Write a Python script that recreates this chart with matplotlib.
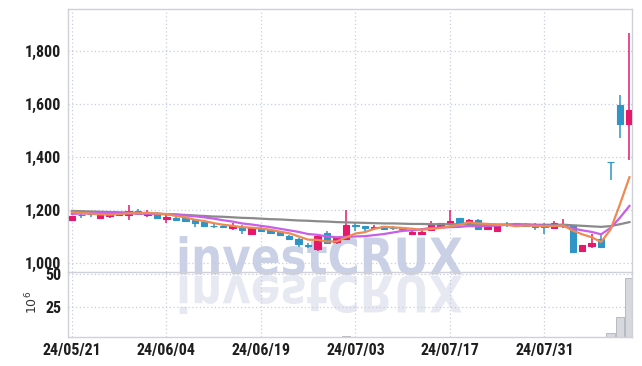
import numpy as np
import matplotlib
matplotlib.use('Agg')
import matplotlib.pyplot as plt
from matplotlib.textpath import TextPath
from matplotlib.patches import PathPatch
from matplotlib.font_manager import FontProperties
from matplotlib.transforms import Affine2D, IdentityTransform

# daily candles, 24/05/21 .. 24/08/13 (trading days)
opens = [1164, 1183, 1190, 1170, 1178, 1183, 1180, 1198, 1183, 1185,
         1167, 1172, 1170, 1163, 1154, 1141, 1141, 1132, 1138, 1110,
         1132, 1125, 1119, 1104, 1091, 1068, 1053, 1114, 1079, 1091,
         1143, 1140, 1132, 1140, 1136, 1131, 1111, 1111, 1126, 1141,
         1150, 1169, 1150, 1163, 1129, 1123, 1149, 1150, 1143, 1147,
         1142, 1134, 1145, 1140, 1046, 1066, 1090, 1382, 1596, 1524]
highs = [1178, 1190, 1197, 1192, 1190, 1192, 1219, 1205, 1200, 1192,
         1189, 1178, 1176, 1168, 1156, 1146, 1144, 1150, 1145, 1134,
         1140, 1128, 1121, 1106, 1094, 1075, 1109, 1120, 1100, 1200,
         1157, 1142, 1144, 1142, 1140, 1135, 1121, 1133, 1158, 1153,
         1200, 1170, 1166, 1165, 1145, 1146, 1155, 1152, 1150, 1150,
         1150, 1160, 1166, 1144, 1070, 1110, 1113, 1382, 1633, 1865]
lows = [1162, 1172, 1176, 1166, 1172, 1178, 1163, 1182, 1176, 1166,
        1153, 1158, 1154, 1135, 1137, 1134, 1132, 1125, 1112, 1108,
        1116, 1110, 1102, 1088, 1060, 1058, 1046, 1072, 1072, 1088,
        1121, 1115, 1124, 1125, 1124, 1128, 1108, 1108, 1122, 1137,
        1147, 1148, 1145, 1126, 1125, 1122, 1138, 1138, 1136, 1127,
        1109, 1131, 1132, 1040, 1044, 1056, 1060, 1313, 1470, 1389]
closes = [1177, 1180, 1187, 1186, 1184, 1186, 1198, 1186, 1194, 1169,
          1176, 1164, 1160, 1153, 1140, 1139, 1135, 1140, 1125, 1132,
          1122, 1113, 1105, 1091, 1073, 1065, 1104, 1076, 1094, 1144,
          1140, 1132, 1138, 1130, 1133, 1130, 1119, 1118, 1147, 1150,
          1159, 1150, 1163, 1130, 1138, 1144, 1146, 1140, 1141, 1135,
          1136, 1150, 1148, 1044, 1069, 1078, 1062, 1381, 1524, 1577]
# volume, millions of shares
volumes = [0.8, 0.6, 0.7, 0.6, 0.5, 0.5, 1.1, 0.7, 0.6, 0.7,
           0.6, 0.5, 0.5, 0.7, 0.6, 0.5, 0.5, 0.6, 0.7, 0.6,
           0.5, 0.5, 0.6, 0.7, 0.9, 0.6, 1.2, 1.0, 0.7, 2.5,
           0.8, 0.6, 0.5, 0.5, 0.5, 0.4, 0.6, 0.7, 0.8, 0.6,
           1.1, 0.7, 0.6, 0.8, 0.6, 0.7, 0.5, 0.5, 0.5, 0.6,
           0.7, 0.6, 0.7, 1.4, 0.9, 0.8, 0.9, 4.8, 16.8, 47.0]
# moving averages as drawn
ma5 = [1192, 1189, 1187, 1184, 1183, 1185, 1188, 1188, 1190, 1187,
       1185, 1178, 1173, 1164, 1159, 1151, 1145, 1141, 1136, 1134,
       1131, 1126, 1119, 1113, 1101, 1089, 1088, 1082, 1082, 1097,
       1112, 1117, 1130, 1137, 1135, 1133, 1130, 1126, 1129, 1133,
       1139, 1145, 1154, 1150, 1148, 1145, 1144, 1140, 1142, 1141,
       1140, 1140, 1142, 1123, 1109, 1098, 1080, 1127, 1223, 1324]
ma10 = [1186, 1187, 1188, 1189, 1189, 1189, 1188, 1187, 1186, 1185,
        1185, 1183, 1180, 1177, 1173, 1168, 1162, 1157, 1150, 1146,
        1141, 1136, 1130, 1124, 1118, 1110, 1107, 1101, 1098, 1099,
        1101, 1102, 1106, 1110, 1116, 1122, 1124, 1128, 1133, 1134,
        1136, 1137, 1140, 1140, 1140, 1142, 1145, 1147, 1146, 1144,
        1141, 1141, 1140, 1131, 1124, 1118, 1109, 1133, 1172, 1216]
ma60 = [1197, 1196, 1195, 1194, 1193, 1192, 1191, 1190, 1188, 1187,
        1185, 1184, 1182, 1180, 1178, 1176, 1175, 1173, 1171, 1170,
        1168, 1166, 1165, 1163, 1161, 1160, 1158, 1157, 1155, 1154,
        1153, 1152, 1151, 1150, 1150, 1149, 1148, 1148, 1147, 1147,
        1147, 1147, 1146, 1146, 1146, 1146, 1146, 1146, 1146, 1145,
        1145, 1145, 1145, 1143, 1141, 1139, 1137, 1140, 1147, 1155]

tick_pos = [0, 10, 20, 30, 40, 50]
tick_labels = ['24/05/21', '24/06/04', '24/06/19', '24/07/03', '24/07/17', '24/07/31']
price_ticks = [1000, 1200, 1400, 1600, 1800]
vol_ticks = [25, 50]

UP = '#e5186c'
DOWN = '#2f94c6'
GRID = '#c9cde0'
EDGE = '#cfd0d8'
label_font = FontProperties(family=['Liberation Sans Narrow', 'Roboto Condensed', 'Roboto'],
                            weight='bold', size=11.5)

o = np.array(opens, float)
h = np.array(highs, float)
l = np.array(lows, float)
c = np.array(closes, float)
x = np.arange(len(c))
colors = [UP if cc >= oo else DOWN for oo, cc in zip(o, c)]

fig = plt.figure(figsize=(6.42, 3.66), dpi=100, facecolor='white')
ax = fig.add_axes([68.3 / 642, 1 - 272.3 / 366, (632.3 - 68.3) / 642, (272.3 - 9.3) / 366])
axv = fig.add_axes([68.3 / 642, 1 - 337 / 366, (632.3 - 68.3) / 642, (337 - 272.3) / 366],
                   sharex=ax)
for a in (ax, axv):
    a.set_facecolor('none')
    for s in a.spines.values():
        s.set_color(EDGE)
        s.set_linewidth(1)
    a.grid(True, color=GRID, linestyle=(0, (1, 2)), linewidth=0.9)
    a.set_axisbelow(True)
    a.tick_params(length=0, colors='#1e1e1e')

# watermark with its reflection
tp = TextPath((0, 0), 'investCRUX', size=100,
              prop=FontProperties(family='DejaVu Sans', weight='bold'))
vx = tp.vertices
x0, x1 = vx[:, 0].min(), vx[:, 0].max()
y0, y1 = vx[:, 1].min(), vx[:, 1].max()
sx = (462 - 176) / (x1 - x0)
sy = (275 - 236) / (y1 - y0)
base = 366 - 275
wm = Affine2D().translate(-x0, -y0).scale(sx, sy).translate(176, base)
fig.add_artist(PathPatch(wm.transform_path(tp), facecolor='#cad1e6', edgecolor='none',
                         transform=IdentityTransform(), zorder=-1))
wm_r = Affine2D().translate(-x0, -y0).scale(sx, -sy).translate(176, base)
fig.add_artist(PathPatch(wm_r.transform_path(tp), facecolor='#e6e9f2', edgecolor='none',
                         transform=IdentityTransform(), zorder=-1))

# candles
ax.vlines(x, l, h, colors=colors, linewidth=1.1, zorder=2)
body_lo = np.minimum(o, c)
body_h = np.maximum(np.abs(c - o), 1.0)
ax.bar(x, body_h, bottom=body_lo, width=0.68, color=colors, edgecolor=colors,
       linewidth=0.8, zorder=3)

ax.plot(x, ma60, color='#8a8a8a', linewidth=1.6, zorder=4)
ax.plot(x, ma10, color='#c85fe6', linewidth=1.6, zorder=4)
ax.plot(x, ma5, color='#ee8a52', linewidth=1.6, zorder=4)

ax.set_ylim(966, 1956)
ax.set_yticks(price_ticks)
ax.set_yticklabels(['{:,}'.format(v) for v in price_ticks], fontproperties=label_font)
ax.set_xlim(-0.38, 59.3)
ax.set_xticks(tick_pos)
ax.tick_params(axis='x', labelbottom=False)
ax.tick_params(axis='y', pad=5)

axv.bar(x, volumes, width=0.9, color='#d7d7de', edgecolor='#b9b9c2', linewidth=0.7)
axv.set_ylim(1.6, 51.4)
axv.set_yticks(vol_ticks)
axv.set_yticklabels([str(v) for v in vol_ticks], fontproperties=label_font)
axv.set_xticks(tick_pos)
axv.set_xticklabels(tick_labels, fontproperties=label_font)
axv.tick_params(axis='x', pad=4)
axv.tick_params(axis='y', pad=5)
axv.spines['top'].set_visible(False)

fig.text(32 / 642, 1 - 302 / 366, r'$10^6$', rotation=90, ha='center', va='center',
         fontsize=9, color='#333333')

fig.savefig('out.png', dpi=100, facecolor='white')
